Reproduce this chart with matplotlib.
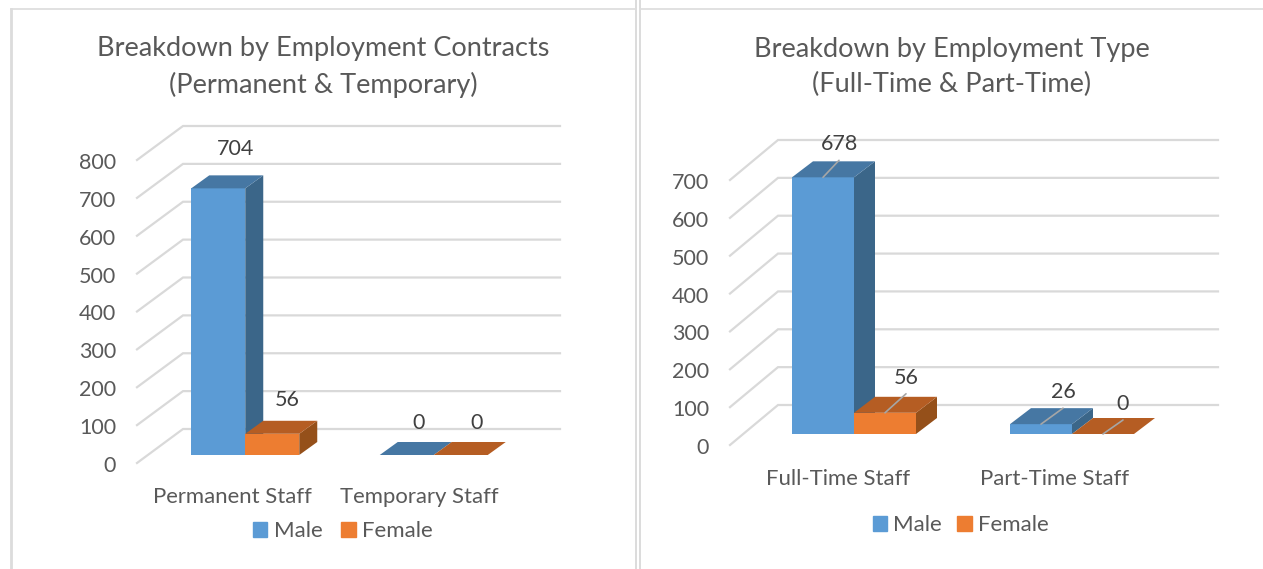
import matplotlib
matplotlib.use('Agg')
import matplotlib.pyplot as plt
import numpy as np
from matplotlib.lines import Line2D
from matplotlib.patches import Patch
from matplotlib.transforms import ScaledTranslation

plt.rcParams['font.family'] = ['Lato', 'DejaVu Sans']

W, H = 1263, 569

contract_cats = ['Permanent Staff', 'Temporary Staff']
contract_male = [704, 0]
contract_female = [56, 0]

type_cats = ['Full-Time Staff', 'Part-Time Staff']
type_male = [678, 26]
type_female = [56, 0]

series_names = ['Male', 'Female']

GRID = '#d9d9d9'
TEXT = '#595959'
LABEL = '#404040'
MALE = ('#5b9bd5', '#4677a3', '#3b6689')    # front, top, side
FEMALE = ('#ed7d31', '#b55d23', '#95501a')


def add_axes_px(fig, left, right, bottom, top):
    return fig.add_axes([left / W, 1 - bottom / H, (right - left) / W, (bottom - top) / H])


def nudge(fig, label, dx, dy):
    # move a tick label by a few pixels
    label.set_transform(label.get_transform() + ScaledTranslation(dx / fig.dpi, dy / fig.dpi, fig.dpi_scale_trans))


def draw_bar(ax, x, width, base, value, depth_x, depth_y, colors):
    # front face, then the top and side faces pushed back by the depth
    top = base + value
    if value > 0:
        ax.bar(x, value, width, bottom=base, align='edge', color=colors[0], linewidth=0, zorder=3, clip_on=False)
        ax.fill([x + width, x + width + depth_x, x + width + depth_x, x + width],
                [base, base + depth_y, top + depth_y, top],
                color=colors[2], linewidth=0, zorder=3, clip_on=False)
    ax.fill([x, x + depth_x, x + width + depth_x, x + width],
            [top, top + depth_y, top + depth_y, top],
            color=colors[1], linewidth=0, zorder=3, clip_on=False)


def draw_panel(fig, box, cats, male, female, ticks, wall_px, wall_end_px, bar_px, width_px, off_px, base_px,
               label_off, leaders, cat_shift, legend_at, legend_gap):
    left, right, bottom, top = box
    ax = add_axes_px(fig, left, right, bottom, top)
    ax.patch.set_alpha(0)
    ax.set_xlim(-0.5, len(cats) - 0.5)
    ax.set_ylim(0, ticks[-1])
    xs = len(cats) / (right - left)
    ys = ticks[-1] / (bottom - top)

    # back wall and floor lines
    wall_x, wall_y = wall_px[0] * xs, wall_px[1] * ys
    wall_end = len(cats) - 0.5 + wall_end_px * xs
    for t in ticks:
        ax.plot([-0.5, -0.5 + wall_x, wall_end], [t, t + wall_y, t + wall_y],
                color=GRID, lw=1.6, clip_on=False, zorder=1, solid_joinstyle='miter')

    width = width_px * xs
    off = off_px * xs
    base = base_px * ys
    depth_x, depth_y = bar_px[0] * xs, bar_px[1] * ys
    k = 0
    for i in range(len(cats)):
        for x, vals, cols in ((i + off - width, male, MALE), (i + off, female, FEMALE)):
            v = vals[i]
            draw_bar(ax, x, width, base, v, depth_x, depth_y, cols)
            xy = (x + width / 2, base + v)
            dx, dy = label_off[k]
            if leaders:
                ax.annotate('', xy=xy, xytext=(dx, dy - 16), xycoords='data', textcoords='offset pixels',
                            arrowprops=dict(arrowstyle='-', color='#a6a6a6', lw=1.2, shrinkA=0, shrinkB=0),
                            zorder=5, annotation_clip=False)
            ax.annotate(str(v), xy=xy, xytext=(dx, dy), xycoords='data', textcoords='offset pixels',
                        ha='center', va='center', fontsize=15.5, color=LABEL, zorder=6, annotation_clip=False)
            k += 1

    ax.set_yticks(ticks)
    ax.set_xticks(range(len(cats)))
    ax.set_xticklabels(cats)
    ax.tick_params(axis='y', length=0, pad=15, labelsize=15.5, labelcolor=TEXT)
    ax.tick_params(axis='x', length=0, pad=17, labelsize=15.9, labelcolor=TEXT)
    for s in ax.spines.values():
        s.set_visible(False)
    for lab in ax.get_yticklabels():
        nudge(fig, lab, 0, -1)
    for lab, shift in zip(ax.get_xticklabels(), cat_shift):
        nudge(fig, lab, shift, 0)

    handles = [Patch(color=MALE[0], label=series_names[0]), Patch(color=FEMALE[0], label=series_names[1])]
    ax.legend(handles=handles, loc='center', bbox_to_anchor=legend_at, ncol=2, frameon=False,
              fontsize=16, labelcolor=TEXT, handlelength=0.64, handleheight=0.64,
              handletextpad=0.28, columnspacing=legend_gap, borderpad=0)
    return ax


fig = plt.figure(figsize=(W / 100, H / 100), dpi=100, facecolor='white')

draw_panel(fig, (137, 514, 463, 160), contract_cats, contract_male, contract_female,
           list(range(0, 801, 100)), (46, 34), 46, (18, 13), 54, 14, 8,
           [(17, 39), (15, 34), (12, 32), (16, 32)], False, (1, 0), (0.546, -0.225), 0.85)

draw_panel(fig, (730, 1166, 445, 180), type_cats, type_male, type_female,
           list(range(0, 701, 100)), (48, 40), 52, (21, 16), 62, 15, 11,
           [(16, 33), (21, 35), (22, 32), (20, 30)], True, (-1, -2), (0.5287, -0.302), 0.7)

fig.text(323 / W, 1 - 67 / H, 'Breakdown by Employment Contracts\n(Permanent & Temporary)',
         ha='center', va='center', fontsize=19.5, color=TEXT, linespacing=1.5)
fig.text(952 / W, 1 - 67 / H, 'Breakdown by Employment Type\n(Full-Time & Part-Time)',
         ha='center', va='center', fontsize=19.5, color=TEXT, linespacing=1.5)

# panel frames
for xd, yd, lw in (((11, 11), (9, 569), 2), ((635.5, 635.5), (0, 569), 1.4), ((639.5, 639.5), (0, 569), 1.4),
                   ((11, 635), (9, 9), 1.2), ((640, 1263), (9, 9), 1.2)):
    fig.add_artist(Line2D(np.array(xd) / W, 1 - np.array(yd) / H, color='#dcdcdc', lw=lw))

fig.savefig('out.png', dpi=100)
